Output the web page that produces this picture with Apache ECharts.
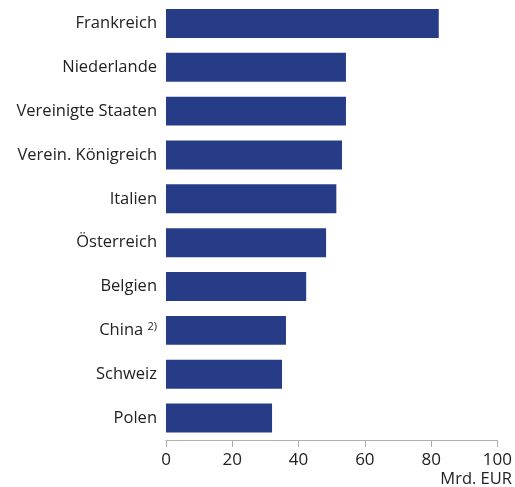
<!DOCTYPE html>
<html><head><meta charset="utf-8">
<script src="https://cdn.jsdelivr.net/npm/echarts@6/dist/echarts.min.js"></script>
<style>html,body{margin:0;padding:0;background:#fff}#c{width:515px;height:487px}</style>
</head><body><div id="c"></div>
<script>
const categories = ["Frankreich","Niederlande","Vereinigte Staaten","Verein. Königreich","Italien","Österreich","Belgien","China","Schweiz","Polen"];
const values = [82.3,54.3,54.3,53.1,51.4,48.3,42.3,36.2,35.0,32.0];
const xTicks = [0,20,40,60,80,100];
const unitLabel = "Mrd. EUR";

const chart = echarts.init(document.getElementById('c'), null, {renderer:'canvas'});
const font = "'Open Sans', sans-serif";
chart.setOption({
  animation:false,
  grid:{left:166,right:17,top:1.5,bottom:47,containLabel:false},
  xAxis:{type:'value',min:xTicks[0],max:xTicks[xTicks.length-1],interval:20,
    axisLine:{show:true,lineStyle:{color:'#b0b0b0',width:1}},
    axisTick:{show:true,length:7,lineStyle:{color:'#b0b0b0'}},
    splitLine:{show:false},
    axisLabel:{color:'#222',fontSize:17,fontFamily:font,margin:12}},
  yAxis:{type:'category',inverse:true,data:categories,
    axisLine:{show:false},axisTick:{show:false},
    axisLabel:{color:'#222',fontSize:16.5,fontFamily:font,margin:9,
      formatter:v=> v==="China" ? "China {s|2)}" : v,
      rich:{s:{fontSize:11,fontFamily:font,color:'#222',verticalAlign:'top',padding:[0,0,7,0]}}}},
  series:[{type:'bar',data:values,barCategoryGap:'34%',itemStyle:{color:'#273c87'}}],
  graphic:[{type:'text',right:3,top:471,style:{text:unitLabel,fill:'#222',font:"16.5px 'Open Sans', sans-serif",textAlign:'right'}}]
});
</script></body></html>
